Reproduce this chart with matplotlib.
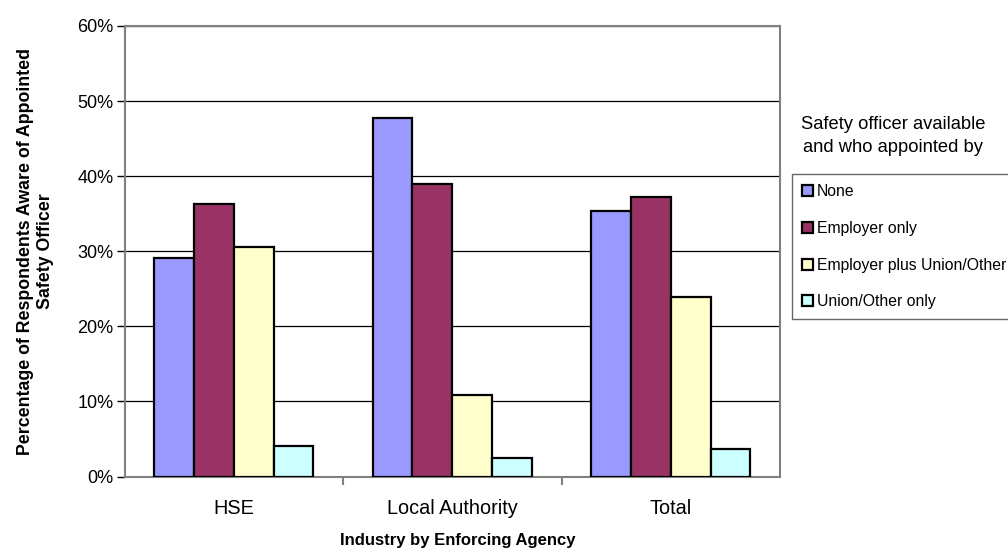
import matplotlib
matplotlib.use("Agg")
import matplotlib.pyplot as plt
import numpy as np
from matplotlib.patches import Patch

plt.rcParams['font.family'] = ['Liberation Sans', 'DejaVu Sans']

categories = ["HSE", "Local Authority", "Total"]
series_names = ["None", "Employer only", "Employer plus Union/Other", "Union/Other only"]
none_vals = [29.1, 47.8, 35.3]
employer_only = [36.3, 38.9, 37.2]
employer_plus_union = [30.5, 10.8, 23.9]
union_only = [4.1, 2.5, 3.6]
colors = ["#9999FF", "#993366", "#FFFFCC", "#CCFFFF"]
y_ticks = [0, 10, 20, 30, 40, 50, 60]

series = [none_vals, employer_only, employer_plus_union, union_only]

fig = plt.figure(figsize=(10.08, 5.5), dpi=100)
ax = fig.add_axes([124.5 / 1008, 1 - 476.5 / 550, 655.5 / 1008, 450.5 / 550])

x = np.arange(len(categories))
n = len(series)
group_w = 0.728
bw = group_w / n
for i, (vals, c) in enumerate(zip(series, colors)):
    ax.bar(x - group_w / 2 + bw * (i + 0.5), vals, width=bw, color=c,
           edgecolor="black", linewidth=1.6, zorder=3)

ax.set_xlim(-0.5, len(categories) - 0.5)
ax.set_ylim(0, 60)
ax.set_yticks(y_ticks)
ax.set_yticklabels([f"{t}%" for t in y_ticks], fontsize=13)
ax.yaxis.grid(True, color="black", linewidth=0.9, zorder=0)
ax.set_axisbelow(True)

ax.set_xticks(x)
ax.set_xticklabels(categories, fontsize=14.3)
ax.tick_params(axis="x", length=0, pad=16)
ax.set_xticks([0.5, 1.5], minor=True)
ax.tick_params(axis="x", which="minor", length=6, width=1.5, color="#808080", direction="out")
ax.tick_params(axis="y", length=6, width=1, color="black", direction="out", pad=2)

for s in ax.spines.values():
    s.set_color("#808080")
    s.set_linewidth(1.5)

fig.text(458 / 1008, 1 - 540 / 550, "Industry by Enforcing Agency",
         ha="center", va="center", fontsize=12, fontweight="bold")
ax.set_ylabel("Percentage of Respondents Aware of Appointed\nSafety Officer",
              fontsize=12.8, fontweight="bold", labelpad=17, linespacing=1.2)

fig.text(893 / 1008, 1 - 136 / 550, "Safety officer available\nand who appointed by",
         ha="center", va="center", fontsize=13.2, linespacing=1.45)

handles = [Patch(facecolor=c, edgecolor="black", linewidth=1.6, label=nm)
           for c, nm in zip(colors, series_names)]
leg = fig.legend(handles=handles, loc="upper left",
                 bbox_to_anchor=(792 / 1008, 1 - 174 / 550),
                 fontsize=11.3, frameon=True, fancybox=False,
                 handlelength=0.7, handleheight=0.7, handletextpad=0.25,
                 labelspacing=1.38, borderpad=0.65, borderaxespad=0)
leg.get_frame().set_edgecolor("#404040")
leg.get_frame().set_linewidth(1.0)

fig.savefig("out.png", dpi=100)
